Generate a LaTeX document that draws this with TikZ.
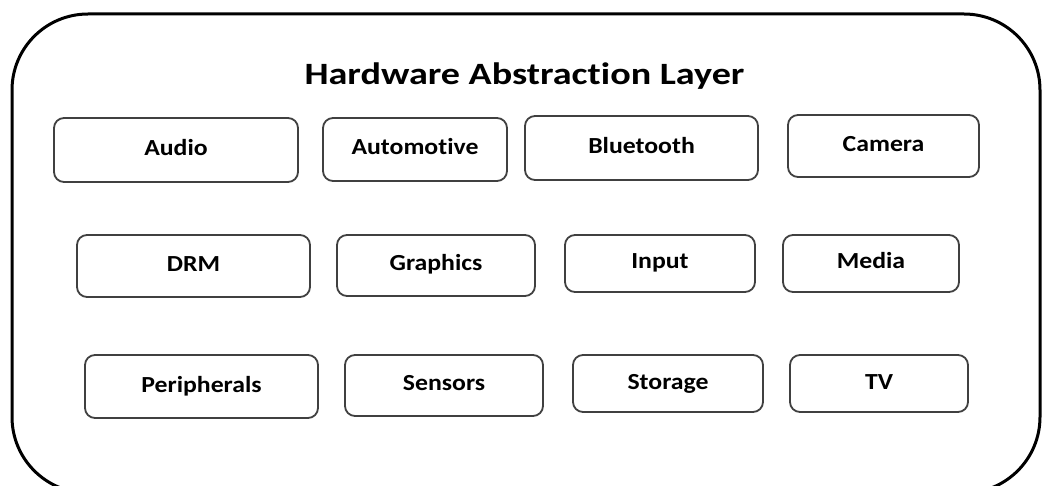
\documentclass[tikz,border=0pt]{standalone}
\usepackage{fontspec}
\setmainfont{Carlito}
\newfontfamily\halfont[Ligatures=NoCommon,FakeStretch=1.12]{Carlito}
\newfontfamily\haltitlefont[Ligatures=NoCommon,FakeStretch=1.23]{Carlito}

\tikzset{
  halbox/.style={draw=black!75, line width=1.8pt, rounded corners=10pt,
    font=\halfont\fontsize{23}{26}\selectfont\bfseries, inner sep=0pt,
    text height=16pt, text depth=5pt},
}

\begin{document}
\begin{tikzpicture}[x=1pt,y=-1pt]
   \useasboundingbox (0,0) rectangle (1042,486);
   \draw[line width=3pt, rounded corners=76pt] (12,14) rectangle (1040,493);
   \node[font=\haltitlefont\fontsize{31}{36}\selectfont\bfseries, anchor=base, inner sep=0pt] (title) at (524.5,85) {Hardware Abstraction Layer};

   \node[halbox, minimum width=244pt, minimum height=64pt] (audio) at (176,150) {Audio};
   \node[halbox, minimum width=184pt, minimum height=63pt] (auto) at (415,149.5) {Automotive};
   \node[halbox, minimum width=233pt, minimum height=64pt] (blue) at (641.5,148) {Bluetooth};
   \node[halbox, minimum width=191pt, minimum height=62pt] (cam) at (883.5,146) {Camera};

   \node[halbox, minimum width=233pt, minimum height=62pt] (drm) at (193.5,266) {DRM};
   \node[halbox, minimum width=198pt, minimum height=61pt] (gfx) at (436,265.5) {Graphics};
   \node[halbox, minimum width=190pt, minimum height=57pt] (input) at (660,263.5) {Input};
   \node[halbox, minimum width=176pt, minimum height=57pt] (media) at (871,263.5) {Media};

   \node[halbox, minimum width=233pt, minimum height=63pt] (peri) at (201.5,386.5) {Peripherals};
   \node[halbox, minimum width=198pt, minimum height=61pt] (sens) at (444,385.5) {Sensors};
   \node[halbox, minimum width=190pt, minimum height=57pt] (stor) at (668,383.5) {Storage};
   \node[halbox, minimum width=178pt, minimum height=57pt] (tv) at (879,383.5) {TV};
\end{tikzpicture}
\end{document}
